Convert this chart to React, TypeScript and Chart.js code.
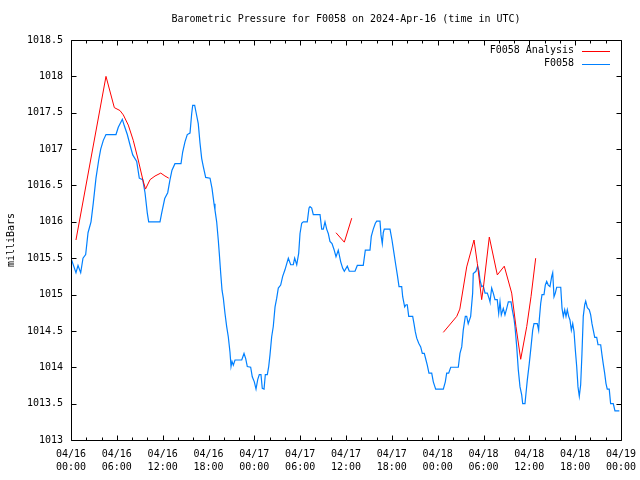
import { useEffect, useRef } from 'react';
import { Chart, registerables } from 'chart.js';

Chart.register(...registerables);

const chartTitle = 'Barometric Pressure for F0058 on 2024-Apr-16 (time in UTC)';
const yAxisTitle = 'milliBars';
const seriesNames = ['F0058 Analysis', 'F0058'];
const seriesColors = ['#ff0000', '#0080ff'];

const xTickLabels: string[][] = [
  ['04/16', '00:00'], ['04/16', '06:00'], ['04/16', '12:00'], ['04/16', '18:00'],
  ['04/17', '00:00'], ['04/17', '06:00'], ['04/17', '12:00'], ['04/17', '18:00'],
  ['04/18', '00:00'], ['04/18', '06:00'], ['04/18', '12:00'], ['04/18', '18:00'],
  ['04/19', '00:00'],
];

// Analysis (red): hours since 04/16 00:00 UTC, null = gap
const redHours = [
  0.65, 4.58, 5.67, 6.41, 6.85, 7.5, 8.15, 8.8, 9.4, 9.75, 10.35, 11.0, 11.75, 12.3, 12.8,
  20,
  34.69, 35.78, 36.75,
  40,
  48.74, 50.5, 50.9, 51.8, 52.76, 53.19, 53.76, 54.0, 54.76, 55.81, 56.72, 57.69, 58.25, 58.87, 59.66, 60.22, 60.83,
];
const redValues: (number | null)[] = [
  1015.75, 1018.0, 1017.57, 1017.53, 1017.47, 1017.33, 1017.12, 1016.85, 1016.58, 1016.45, 1016.58, 1016.63, 1016.67, 1016.63, 1016.6,
  null,
  1015.85, 1015.72, 1016.05,
  null,
  1014.48, 1014.7, 1014.8, 1015.38, 1015.75, 1015.43, 1014.93, 1015.11, 1015.79, 1015.27, 1015.39, 1015.02, 1014.56, 1014.11, 1014.56, 1014.97, 1015.5,
];

// Station observations (blue)
const blueHours = [
  0, 0.13, 0.65, 0.92, 1.27, 1.57, 1.92, 2.23, 2.62, 2.92, 3.27, 3.63, 3.89, 4.23, 4.58, 5.89, 6.19, 6.72, 6.98, 7.37,
  7.72, 8.08, 8.6, 8.94, 9.39, 9.69, 9.99, 10.17, 11.65, 11.87, 12.27, 12.66, 12.96, 13.22, 13.61, 14.4, 14.62, 14.92, 15.22, 15.58,
  15.8, 15.93, 16.19, 16.36, 16.66, 16.89, 17.11, 17.32, 17.63, 18.2, 18.46, 18.72, 18.85, 19.07, 19.28, 19.41, 19.6, 19.77, 19.94, 20.16,
  20.38, 20.59, 20.81, 20.95, 21.08, 21.25, 21.47, 22.35, 22.65, 22.87, 23.08, 23.52, 23.73, 24.0, 24.22, 24.44, 24.65, 24.87, 25.04, 25.27,
  25.44, 25.7, 25.88, 26.05, 26.27, 26.48, 26.71, 26.93, 27.14, 27.45, 27.71, 28.01, 28.45, 28.76, 29.1, 29.28, 29.55, 29.81, 29.98, 30.2,
  30.41, 30.93, 31.16, 31.29, 31.51, 31.72, 32.6, 32.82, 33.03, 33.25, 33.47, 33.68, 33.9, 34.17, 34.43, 34.69, 34.99, 35.31, 35.57, 35.78,
  36.17, 36.43, 37.18, 37.48, 38.26, 38.53, 39.14, 39.31, 39.57, 39.84, 40.02, 40.45, 40.58, 40.75, 40.88, 41.01, 41.76, 42.02, 42.28, 42.51,
  42.72, 42.94, 43.29, 43.42, 43.68, 43.86, 44.02, 44.21, 44.73, 44.9, 45.07, 45.26, 45.52, 45.78, 45.99, 46.25, 46.47, 46.64, 46.86, 47.22,
  47.43, 47.74, 48.74, 49.0, 49.18, 49.44, 49.71, 50.7, 50.92, 51.15, 51.35, 51.62, 51.8, 52.0, 52.32, 52.58, 52.66, 53.01, 53.23, 53.41,
  53.54, 53.76, 53.97, 54.2, 54.5, 54.72, 54.85, 55.07, 55.28, 55.5, 55.8, 55.99, 56.16, 56.33, 56.59, 56.81, 57.04, 57.25, 57.6, 57.77,
  57.99, 58.12, 58.35, 58.56, 58.78, 59.0, 59.13, 59.43, 59.56, 59.73, 59.99, 60.22, 60.44, 60.61, 61.04, 61.22, 61.3, 61.49, 61.66, 61.92,
  62.09, 62.27, 62.48, 62.7, 62.93, 63.06, 63.23, 63.4, 63.58, 64.11, 64.28, 64.45, 64.63, 64.8, 64.97, 65.15, 65.32, 65.5, 65.68, 65.85,
  66.02, 66.2, 66.37, 66.54, 66.72, 66.89, 67.06, 67.25, 67.38, 67.59, 67.85, 68.03, 68.2, 68.37, 68.56, 68.82, 68.99, 69.34, 69.51, 69.67,
  69.86, 70.03, 70.2, 70.46, 70.64, 70.99, 71.21, 71.78,
];
const blueValues = [
  1015.5, 1015.5, 1015.3, 1015.4, 1015.3, 1015.5, 1015.55, 1015.85, 1016.0, 1016.26, 1016.6, 1016.85, 1017.0, 1017.12, 1017.2, 1017.2, 1017.3, 1017.41, 1017.32, 1017.2,
  1017.06, 1016.92, 1016.83, 1016.6, 1016.58, 1016.4, 1016.12, 1016.0, 1016.0, 1016.12, 1016.32, 1016.4, 1016.58, 1016.71, 1016.8, 1016.8, 1016.96, 1017.1, 1017.2, 1017.22,
  1017.49, 1017.6, 1017.6, 1017.51, 1017.35, 1017.08, 1016.87, 1016.76, 1016.61, 1016.6, 1016.46, 1016.25, 1016.16, 1016.0, 1015.75, 1015.57, 1015.29, 1015.06, 1014.95, 1014.74,
  1014.56, 1014.42, 1014.21, 1014.01, 1014.08, 1014.03, 1014.1, 1014.1, 1014.19, 1014.12, 1014.01, 1014.0, 1013.87, 1013.8, 1013.7, 1013.83, 1013.9, 1013.9, 1013.71, 1013.7,
  1013.9, 1013.9, 1014.01, 1014.17, 1014.42, 1014.56, 1014.83, 1014.95, 1015.09, 1015.13, 1015.25, 1015.34, 1015.5, 1015.41, 1015.41, 1015.5, 1015.41, 1015.57, 1015.84, 1015.98,
  1016.0, 1016.0, 1016.19, 1016.21, 1016.19, 1016.1, 1016.1, 1015.9, 1015.9, 1016.0, 1015.9, 1015.84, 1015.73, 1015.7, 1015.62, 1015.52, 1015.61, 1015.45, 1015.36, 1015.32,
  1015.39, 1015.32, 1015.32, 1015.4, 1015.4, 1015.61, 1015.61, 1015.8, 1015.9, 1015.98, 1016.01, 1016.01, 1015.82, 1015.7, 1015.85, 1015.9, 1015.9, 1015.75, 1015.57, 1015.41,
  1015.27, 1015.11, 1015.11, 1014.97, 1014.83, 1014.86, 1014.86, 1014.7, 1014.7, 1014.6, 1014.49, 1014.4, 1014.33, 1014.28, 1014.19, 1014.19, 1014.1, 1014.03, 1013.92, 1013.92,
  1013.8, 1013.7, 1013.7, 1013.8, 1013.92, 1013.92, 1014.0, 1014.0, 1014.19, 1014.28, 1014.51, 1014.7, 1014.7, 1014.6, 1014.7, 1015.02, 1015.29, 1015.32, 1015.39, 1015.32,
  1015.2, 1015.11, 1015.12, 1015.02, 1015.02, 1014.95, 1014.9, 1015.09, 1015.02, 1014.93, 1014.93, 1014.74, 1014.9, 1014.72, 1014.81, 1014.72, 1014.81, 1014.9, 1014.9, 1014.79,
  1014.67, 1014.56, 1014.28, 1013.96, 1013.73, 1013.62, 1013.5, 1013.5, 1013.64, 1013.82, 1014.05, 1014.28, 1014.51, 1014.6, 1014.6, 1014.51, 1014.65, 1014.88, 1015.0, 1015.0,
  1015.13, 1015.18, 1015.13, 1015.11, 1015.25, 1015.3, 1014.97, 1015.02, 1015.1, 1015.1, 1014.81, 1014.7, 1014.79, 1014.7, 1014.79, 1014.7, 1014.65, 1014.51, 1014.6, 1014.49,
  1014.24, 1014.01, 1013.73, 1013.6, 1013.76, 1014.19, 1014.7, 1014.86, 1014.91, 1014.82, 1014.79, 1014.72, 1014.6, 1014.51, 1014.41, 1014.41, 1014.31, 1014.31, 1014.17, 1014.05,
  1013.92, 1013.78, 1013.7, 1013.7, 1013.5, 1013.5, 1013.4, 1013.4,
];

const FONT = 'DejaVu Sans Mono';

const decorPlugin = {
  id: 'gnuplotDecor',
  afterDraw(chart: any) {
    const { ctx, chartArea } = chart;
    const { left, right, top, bottom } = chartArea;
    const xs = chart.scales.x;
    const ys = chart.scales.y;
    ctx.save();
    ctx.strokeStyle = '#000';
    ctx.lineWidth = 1;
    ctx.beginPath();
    const L = Math.round(left) + 0.5, R = Math.round(right) + 0.5;
    const T = Math.round(top) + 0.5, B = Math.round(bottom) + 0.5;
    ctx.rect(L, T, R - L, B - T);
    for (let h = 0; h <= 72; h += 2) {
      const px = Math.round(xs.getPixelForValue(h)) + 0.5;
      const len = h % 6 === 0 ? 5 : 3;
      ctx.moveTo(px, B); ctx.lineTo(px, B - len);
      ctx.moveTo(px, T); ctx.lineTo(px, T + len);
    }
    for (let v = 1013; v <= 1018.5 + 1e-9; v += 0.5) {
      const py = Math.round(ys.getPixelForValue(v)) + 0.5;
      ctx.moveTo(L, py); ctx.lineTo(L + 5, py);
      ctx.moveTo(R, py); ctx.lineTo(R - 5, py);
    }
    ctx.stroke();

    ctx.fillStyle = '#000';
    ctx.font = `10px "${FONT}"`;
    ctx.textBaseline = 'middle';
    ctx.textAlign = 'center';
    ctx.fillText(chartTitle, (left + right) / 2, 19.5);

    ctx.save();
    ctx.translate(11, 240);
    ctx.rotate(-Math.PI / 2);
    ctx.fillText(yAxisTitle, 0, 0);
    ctx.restore();

    ctx.textAlign = 'right';
    chart.data.datasets.forEach((ds: any, i: number) => {
      const y = top + 10.5 + i * 13;
      ctx.fillStyle = '#000';
      ctx.fillText(ds.label, right - 47, y);
      ctx.strokeStyle = ds.borderColor;
      ctx.beginPath();
      ctx.moveTo(right - 39, Math.round(y) + 0.5);
      ctx.lineTo(right - 11, Math.round(y) + 0.5);
      ctx.stroke();
    });
    ctx.restore();
  },
};

export default function App() {
  const ref = useRef<HTMLCanvasElement | null>(null);
  useEffect(() => {
    document.body.style.margin = '0';
    const canvas = ref.current;
    if (!canvas) return;
    const chart = new Chart(canvas, {
      type: 'line',
      data: {
        datasets: [
          {
            label: seriesNames[0],
            data: redHours.map((h, i) => ({ x: h, y: redValues[i] })) as any,
            borderColor: seriesColors[0],
            borderWidth: 1,
            pointRadius: 0,
            tension: 0,
            spanGaps: false,
          },
          {
            label: seriesNames[1],
            data: blueHours.map((h, i) => ({ x: h, y: blueValues[i] })),
            borderColor: seriesColors[1],
            borderWidth: 1.2,
            pointRadius: 0,
            tension: 0,
          },
        ],
      },
      options: {
        responsive: false,
        animation: false,
        layout: { padding: { top: 40, right: 19, left: 0, bottom: 0 } },
        plugins: {
          legend: { display: false },
          tooltip: { enabled: false },
          title: { display: false },
        },
        scales: {
          x: {
            type: 'linear',
            min: 0,
            max: 72,
            grid: { display: false, drawTicks: false, tickLength: 0 },
            border: { display: false },
            ticks: {
              stepSize: 6,
              autoSkip: false,
              maxRotation: 0,
              padding: 8,
              color: '#000',
              font: { family: FONT, size: 10, lineHeight: 1.3 },
              callback: (v: any) => xTickLabels[Math.round(Number(v) / 6)] ?? '',
            },
            afterFit: (s: any) => {
              s.height = 40;
              s.paddingLeft = 0;
              s.paddingRight = 0;
            },
          },
          y: {
            type: 'linear',
            min: 1013,
            max: 1018.5,
            grid: { display: false, drawTicks: false, tickLength: 0 },
            border: { display: false },
            ticks: {
              stepSize: 0.5,
              padding: 8,
              color: '#000',
              font: { family: FONT, size: 10 },
              callback: (v: any) => String(v),
            },
            afterFit: (s: any) => {
              s.width = 71;
              s.paddingTop = 0;
              s.paddingBottom = 0;
            },
          },
        },
      },
      plugins: [decorPlugin],
    });
    return () => chart.destroy();
  }, []);
  return (
    <div style={{ width: 640, height: 480, background: '#fff' }}>
      <canvas ref={ref} width={640} height={480} style={{ display: 'block' }} />
    </div>
  );
}
